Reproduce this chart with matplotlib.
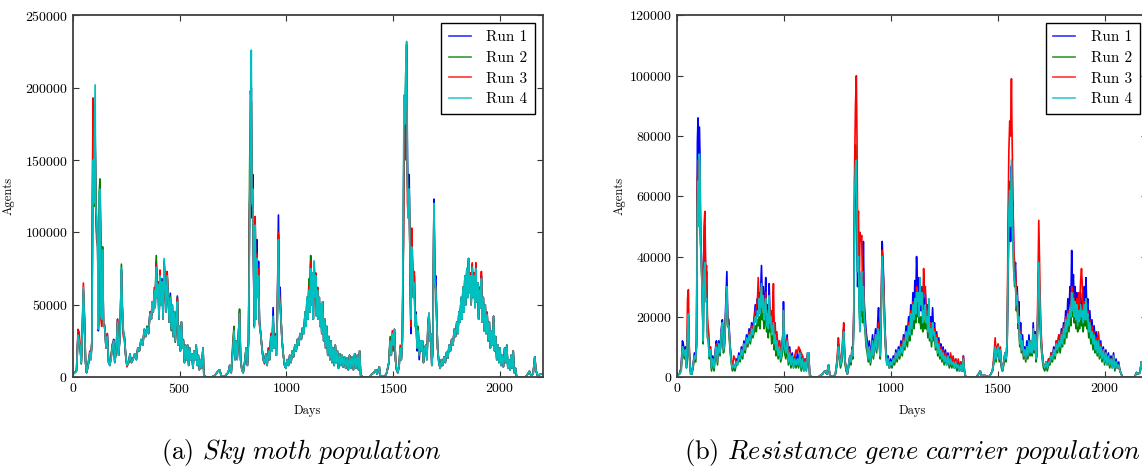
import numpy as np
import matplotlib
matplotlib.use("Agg")
import matplotlib.pyplot as plt

# font that looks like the LaTeX document
plt.rcParams['font.family'] = ['cmr10', 'DejaVu Serif']
plt.rcParams['mathtext.fontset'] = 'cm'
plt.rcParams['axes.formatter.use_mathtext'] = True

# ---------------- sky moth population (thousands of agents) ----------------
sky_days = [
    0, 10, 18, 25, 30, 35, 40, 45, 50, 55,
    60, 65, 72, 80, 85, 90, 95, 98, 102, 105,
    108, 112, 117, 120, 124, 128, 132, 136, 140, 144,
    150, 156, 162, 168, 174, 180, 186, 192, 197, 204,
    210, 215, 222, 228, 232, 237, 242, 248, 254, 262,
    268, 275, 282, 290, 298, 305, 312, 320, 328, 335,
    342, 348, 355, 362, 368, 372, 377, 382, 386, 391,
    396, 400, 404, 409, 413, 418, 423, 428, 433, 437,
    442, 447, 452, 457, 461, 466, 471, 476, 480, 485,
    490, 494, 499, 504, 509, 514, 518, 523, 528, 533,
    538, 543, 548, 553, 558, 563, 568, 573, 578, 583,
    588, 593, 598, 603, 610, 614, 625, 650, 665, 680,
    688, 695, 710, 720, 728, 735, 742, 750, 755, 760,
    765, 770, 776, 781, 786, 792, 798, 805, 812, 818,
    823, 828, 832, 836, 839, 843, 847, 850, 854, 858,
    862, 866, 870, 874, 880, 886, 892, 898, 904, 910,
    916, 922, 928, 933, 938, 943, 948, 953, 958, 963,
    967, 971, 975, 980, 986, 992, 998, 1004, 1010, 1016,
    1022, 1028, 1034, 1040, 1046, 1052, 1058, 1064, 1070, 1076,
    1082, 1088, 1092, 1097, 1101, 1106, 1110, 1114, 1118, 1122,
    1126, 1130, 1134, 1138, 1142, 1146, 1150, 1154, 1158, 1162,
    1166, 1170, 1175, 1180, 1184, 1189, 1194, 1199, 1204, 1209,
    1214, 1219, 1224, 1229, 1234, 1239, 1244, 1250, 1255, 1260,
    1266, 1272, 1278, 1284, 1290, 1296, 1302, 1308, 1314, 1320,
    1326, 1332, 1338, 1343, 1348, 1360, 1390, 1400, 1410, 1418,
    1425, 1435, 1440, 1460, 1470, 1480, 1486, 1491, 1496, 1501,
    1506, 1511, 1516, 1522, 1528, 1533, 1538, 1543, 1548, 1551,
    1555, 1559, 1563, 1567, 1571, 1575, 1579, 1583, 1587, 1591,
    1595, 1599, 1603, 1607, 1612, 1617, 1622, 1627, 1632, 1637,
    1642, 1648, 1653, 1658, 1663, 1668, 1672, 1676, 1681, 1686,
    1691, 1695, 1700, 1704, 1708, 1714, 1720, 1726, 1732, 1738,
    1744, 1750, 1756, 1762, 1768, 1774, 1780, 1786, 1792, 1798,
    1803, 1808, 1813, 1818, 1822, 1827, 1831, 1836, 1840, 1845,
    1849, 1853, 1857, 1861, 1865, 1870, 1874, 1879, 1883, 1887,
    1891, 1896, 1900, 1905, 1909, 1913, 1917, 1922, 1926, 1931,
    1935, 1940, 1945, 1950, 1955, 1960, 1965, 1970, 1975, 1980,
    1985, 1990, 1995, 2000, 2005, 2010, 2016, 2022, 2027, 2032,
    2037, 2042, 2047, 2052, 2057, 2062, 2067, 2073, 2078, 2120,
    2130, 2138, 2145, 2155, 2163, 2168, 2175, 2190, 2200]

sky_run1 = [
    2, 3, 5, 30, 24, 22, 10, 30, 60, 40,
    10, 3, 8, 16, 12, 25, 190, 150, 120, 165,
    125, 100, 95, 32, 85, 130, 80, 45, 88, 36,
    35, 20, 30, 10, 8, 14, 22, 26, 10, 20,
    40, 15, 30, 74, 50, 30, 28, 15, 8, 10,
    16, 10, 12, 16, 12, 20, 18, 26, 22, 33,
    28, 35, 30, 45, 40, 52, 45, 60, 48, 80,
    55, 65, 40, 70, 50, 68, 40, 80, 62, 45,
    70, 55, 38, 58, 33, 50, 28, 45, 25, 40,
    56, 22, 35, 18, 38, 20, 25, 10, 22, 12,
    22, 8, 20, 12, 16, 6, 18, 12, 22, 8,
    15, 5, 12, 6, 20, 1, 0, 0, 1, 4,
    5, 1, 0, 2, 3, 8, 3, 20, 30, 12,
    25, 12, 30, 45, 12, 5, 3, 10, 20, 8,
    25, 120, 150, 200, 110, 140, 70, 35, 110, 40,
    95, 60, 80, 40, 30, 20, 12, 10, 16, 8,
    20, 12, 30, 18, 48, 20, 28, 15, 45, 112,
    60, 62, 40, 25, 15, 8, 6, 12, 8, 15,
    10, 18, 14, 22, 18, 26, 22, 30, 26, 34,
    30, 45, 35, 55, 40, 65, 45, 78, 50, 72,
    40, 80, 55, 70, 42, 60, 40, 55, 35, 50,
    30, 52, 25, 40, 20, 35, 15, 28, 12, 25,
    10, 20, 8, 22, 10, 18, 6, 16, 8, 15,
    7, 14, 6, 13, 5, 15, 6, 14, 5, 16,
    6, 15, 5, 18, 1, 0, 0, 2, 3, 5,
    2, 7, 1, 0, 3, 10, 25, 15, 30, 20,
    33, 12, 5, 3, 8, 20, 12, 25, 100, 175,
    160, 200, 230, 150, 110, 140, 80, 30, 100, 70,
    55, 70, 35, 45, 18, 30, 12, 25, 18, 25,
    10, 20, 22, 12, 35, 44, 25, 30, 8, 20,
    123, 66, 70, 40, 20, 10, 6, 12, 8, 14,
    10, 17, 13, 22, 18, 26, 22, 33, 28, 38,
    30, 45, 38, 55, 40, 62, 45, 70, 50, 75,
    55, 82, 58, 72, 50, 78, 55, 72, 48, 76,
    52, 65, 40, 62, 48, 70, 38, 55, 32, 50,
    30, 43, 25, 38, 20, 32, 22, 42, 18, 28,
    12, 22, 10, 20, 8, 15, 7, 20, 10, 22,
    6, 12, 5, 15, 6, 18, 3, 6, 0, 0,
    2, 4, 1, 2, 14, 5, 1, 2, 2]

sky_run2 = [
    2, 3, 4, 28, 26, 20, 9, 28, 58, 38,
    10, 3, 7, 15, 13, 24, 180, 120, 118, 160,
    130, 105, 90, 35, 128, 137, 82, 48, 90, 38,
    33, 22, 28, 11, 8, 15, 23, 24, 10, 18,
    38, 16, 32, 78, 46, 32, 28, 15, 8, 10,
    15, 10, 13, 15, 12, 20, 18, 25, 23, 33,
    28, 35, 31, 44, 40, 50, 46, 58, 50, 84,
    56, 66, 42, 68, 52, 66, 42, 78, 62, 46,
    70, 55, 38, 56, 32, 50, 28, 45, 24, 40,
    55, 22, 35, 18, 38, 20, 25, 10, 22, 12,
    22, 8, 20, 12, 16, 6, 18, 12, 22, 8,
    15, 5, 12, 6, 20, 1, 0, 0, 1, 4,
    5, 1, 0, 2, 3, 8, 3, 25, 35, 12,
    25, 14, 28, 47, 12, 5, 3, 10, 20, 9,
    25, 140, 198, 190, 120, 130, 75, 36, 108, 45,
    80, 55, 70, 38, 30, 20, 12, 10, 16, 8,
    18, 12, 28, 20, 40, 22, 26, 15, 40, 98,
    55, 50, 40, 25, 15, 8, 6, 12, 8, 15,
    10, 18, 14, 22, 18, 26, 22, 30, 26, 34,
    30, 45, 35, 55, 40, 68, 45, 84, 50, 70,
    40, 78, 55, 70, 42, 62, 40, 55, 35, 50,
    30, 52, 25, 40, 20, 35, 15, 28, 12, 25,
    10, 20, 8, 22, 10, 18, 6, 16, 8, 15,
    7, 14, 6, 13, 5, 15, 6, 14, 5, 16,
    6, 15, 5, 18, 1, 0, 0, 2, 3, 5,
    2, 7, 1, 0, 3, 10, 28, 15, 30, 18,
    32, 12, 5, 3, 8, 20, 12, 25, 90, 180,
    170, 210, 220, 135, 115, 128, 80, 35, 95, 70,
    55, 68, 35, 43, 20, 35, 15, 25, 18, 25,
    10, 20, 22, 12, 35, 44, 25, 30, 8, 20,
    120, 66, 60, 40, 20, 10, 6, 12, 8, 14,
    10, 17, 13, 22, 18, 26, 22, 33, 28, 38,
    30, 45, 38, 55, 40, 62, 45, 70, 50, 75,
    55, 80, 58, 70, 50, 76, 55, 70, 48, 75,
    52, 65, 40, 60, 48, 68, 38, 55, 32, 50,
    30, 43, 25, 38, 20, 32, 22, 42, 18, 28,
    12, 22, 10, 20, 8, 15, 7, 20, 10, 22,
    6, 12, 5, 15, 6, 18, 3, 6, 0, 0,
    2, 4, 1, 2, 14, 5, 1, 2, 2]

sky_run3 = [
    2, 3, 5, 33, 31, 22, 10, 35, 65, 42,
    12, 3, 9, 18, 12, 26, 193, 160, 122, 170,
    120, 95, 90, 35, 110, 130, 40, 35, 85, 36,
    36, 20, 30, 10, 9, 14, 22, 25, 11, 20,
    40, 15, 30, 72, 48, 28, 26, 15, 7, 10,
    15, 10, 12, 16, 13, 20, 18, 25, 22, 32,
    28, 34, 30, 45, 40, 52, 45, 62, 48, 78,
    55, 65, 40, 74, 50, 66, 40, 80, 60, 45,
    73, 58, 38, 55, 33, 50, 28, 45, 25, 40,
    55, 22, 35, 18, 38, 20, 26, 10, 22, 12,
    22, 8, 20, 12, 16, 6, 18, 12, 22, 8,
    15, 5, 12, 6, 20, 1, 0, 0, 1, 4,
    5, 1, 0, 2, 3, 8, 3, 22, 33, 12,
    25, 13, 30, 44, 12, 5, 3, 10, 20, 8,
    25, 115, 140, 190, 118, 125, 70, 35, 111, 42,
    85, 60, 75, 36, 30, 20, 12, 9, 16, 8,
    20, 12, 30, 20, 40, 20, 30, 15, 48, 100,
    58, 52, 40, 25, 15, 8, 6, 12, 8, 15,
    10, 18, 14, 22, 18, 26, 22, 30, 26, 34,
    30, 45, 35, 55, 40, 63, 45, 80, 50, 72,
    40, 78, 55, 72, 42, 62, 40, 55, 35, 50,
    30, 52, 25, 40, 20, 35, 15, 28, 12, 25,
    10, 20, 8, 22, 10, 18, 6, 16, 8, 15,
    7, 14, 6, 13, 5, 15, 6, 14, 5, 16,
    6, 15, 5, 18, 1, 0, 0, 2, 3, 5,
    2, 7, 1, 0, 3, 10, 26, 15, 32, 20,
    33, 12, 5, 3, 8, 22, 12, 28, 95, 170,
    150, 190, 210, 120, 110, 125, 80, 35, 103, 80,
    60, 73, 35, 43, 20, 32, 15, 25, 18, 25,
    10, 20, 22, 12, 38, 44, 25, 30, 8, 20,
    120, 66, 60, 40, 20, 10, 6, 12, 8, 14,
    10, 17, 13, 22, 18, 26, 22, 33, 28, 38,
    30, 45, 38, 55, 40, 62, 45, 70, 50, 75,
    55, 80, 58, 72, 50, 79, 55, 72, 48, 79,
    52, 65, 40, 62, 48, 73, 38, 55, 32, 50,
    30, 45, 25, 38, 20, 32, 22, 42, 18, 28,
    12, 22, 10, 20, 8, 15, 7, 20, 10, 22,
    6, 12, 5, 15, 6, 18, 3, 6, 0, 0,
    2, 4, 1, 2, 14, 5, 1, 2, 2]

sky_run4 = [
    2, 3, 4, 29, 25, 21, 10, 32, 62, 40,
    11, 3, 8, 17, 12, 24, 150, 120, 170, 202,
    118, 110, 85, 33, 125, 130, 42, 40, 88, 36,
    35, 20, 28, 10, 8, 13, 21, 25, 10, 20,
    38, 15, 30, 75, 50, 32, 27, 15, 8, 10,
    16, 10, 12, 16, 12, 20, 18, 26, 22, 33,
    28, 34, 30, 44, 40, 52, 45, 60, 48, 76,
    55, 64, 40, 70, 50, 66, 40, 82, 62, 45,
    70, 55, 38, 55, 33, 50, 28, 45, 25, 40,
    52, 22, 35, 18, 38, 20, 25, 10, 22, 12,
    22, 8, 20, 12, 16, 6, 18, 12, 22, 8,
    15, 5, 12, 6, 20, 1, 0, 0, 1, 4,
    5, 1, 0, 2, 3, 8, 3, 20, 32, 12,
    25, 12, 30, 44, 12, 5, 3, 10, 20, 8,
    25, 100, 180, 226, 120, 130, 72, 34, 105, 40,
    82, 55, 70, 38, 30, 20, 12, 10, 16, 8,
    18, 12, 28, 18, 42, 20, 28, 15, 42, 95,
    55, 50, 40, 25, 15, 8, 6, 12, 8, 15,
    10, 18, 14, 22, 18, 26, 22, 30, 26, 34,
    30, 45, 35, 55, 40, 60, 45, 75, 50, 72,
    40, 80, 55, 70, 42, 60, 40, 55, 35, 50,
    30, 52, 25, 40, 20, 35, 15, 28, 12, 25,
    10, 20, 8, 22, 10, 18, 6, 16, 8, 15,
    7, 14, 6, 13, 5, 15, 6, 14, 5, 16,
    6, 15, 5, 18, 1, 0, 0, 2, 3, 5,
    2, 7, 1, 0, 3, 10, 25, 15, 30, 22,
    33, 12, 5, 3, 8, 20, 12, 25, 130, 195,
    175, 210, 232, 135, 110, 130, 80, 40, 90, 75,
    55, 65, 35, 43, 20, 32, 15, 25, 18, 25,
    10, 20, 22, 12, 35, 44, 25, 30, 8, 20,
    120, 66, 60, 40, 20, 10, 6, 12, 8, 14,
    10, 17, 13, 22, 18, 26, 22, 33, 28, 38,
    30, 45, 38, 55, 40, 62, 45, 70, 50, 75,
    55, 82, 58, 70, 50, 76, 55, 70, 48, 75,
    52, 65, 40, 60, 48, 68, 38, 55, 32, 50,
    30, 43, 25, 38, 20, 32, 22, 42, 18, 28,
    12, 22, 10, 20, 8, 15, 7, 20, 10, 22,
    6, 12, 5, 15, 6, 18, 3, 6, 0, 0,
    2, 4, 1, 2, 14, 5, 1, 2, 2]

# ---------------- resistance gene carriers (thousands of agents) ----------------
res_days = [
    0, 10, 18, 24, 28, 33, 38, 43, 48, 52,
    56, 62, 68, 74, 80, 86, 90, 94, 97, 100,
    103, 106, 109, 113, 117, 121, 125, 129, 133, 137,
    141, 145, 150, 155, 160, 166, 172, 178, 183, 188,
    194, 200, 206, 211, 216, 221, 227, 232, 236, 241,
    246, 252, 258, 264, 270, 276, 282, 288, 294, 300,
    306, 312, 318, 324, 330, 336, 342, 348, 354, 360,
    365, 370, 375, 379, 383, 387, 391, 394, 398, 402,
    406, 410, 414, 418, 422, 426, 430, 434, 438, 442,
    446, 450, 454, 458, 462, 466, 472, 478, 484, 490,
    494, 497, 502, 508, 514, 520, 526, 532, 538, 544,
    550, 556, 562, 568, 574, 580, 586, 592, 598, 604,
    610, 615, 620, 630, 660, 680, 690, 700, 708, 714,
    730, 740, 748, 754, 758, 764, 770, 775, 779, 784,
    790, 796, 802, 808, 813, 818, 822, 826, 830, 834,
    838, 841, 844, 848, 852, 855, 859, 863, 867, 871,
    875, 879, 884, 889, 894, 899, 904, 909, 914, 918,
    923, 928, 933, 938, 942, 946, 950, 955, 959, 963,
    967, 971, 976, 981, 987, 993, 999, 1005, 1011, 1017,
    1023, 1029, 1035, 1041, 1047, 1053, 1059, 1065, 1071, 1077,
    1083, 1088, 1093, 1098, 1103, 1108, 1112, 1116, 1120, 1124,
    1128, 1132, 1136, 1140, 1145, 1149, 1153, 1157, 1161, 1165,
    1169, 1173, 1177, 1181, 1186, 1190, 1195, 1199, 1204, 1209,
    1214, 1219, 1224, 1229, 1234, 1239, 1244, 1249, 1255, 1261,
    1267, 1273, 1279, 1285, 1291, 1297, 1303, 1309, 1315, 1321,
    1327, 1333, 1339, 1344, 1350, 1400, 1410, 1418, 1424, 1440,
    1460, 1475, 1483, 1488, 1492, 1497, 1502, 1507, 1512, 1517,
    1522, 1528, 1534, 1539, 1544, 1548, 1552, 1556, 1560, 1564,
    1567, 1571, 1575, 1579, 1583, 1587, 1591, 1595, 1599, 1603,
    1607, 1611, 1616, 1621, 1626, 1631, 1636, 1641, 1646, 1651,
    1656, 1661, 1666, 1670, 1675, 1679, 1683, 1688, 1692, 1695,
    1699, 1703, 1708, 1714, 1720, 1726, 1732, 1738, 1744, 1750,
    1756, 1762, 1768, 1774, 1780, 1786, 1792, 1798, 1803, 1808,
    1813, 1818, 1823, 1828, 1833, 1838, 1842, 1846, 1850, 1854,
    1858, 1862, 1866, 1870, 1874, 1879, 1883, 1888, 1892, 1896,
    1900, 1905, 1909, 1913, 1917, 1921, 1926, 1931, 1936, 1941,
    1946, 1951, 1956, 1961, 1966, 1971, 1976, 1982, 1988, 1994,
    2000, 2006, 2012, 2018, 2024, 2030, 2036, 2042, 2048, 2054,
    2060, 2066, 2072, 2078, 2084, 2140, 2150, 2158, 2166, 2172,
    2178, 2190, 2200]

res_run1 = [
    0.5, 1, 3, 12, 11, 8, 10, 4, 15, 20,
    8, 2, 1, 4, 8, 6, 12, 78, 86, 60,
    83, 75, 48, 40, 30, 12, 45, 50, 30, 35,
    15, 16, 8, 10, 3, 7, 4, 9, 12, 6,
    12, 9, 16, 19, 10, 12, 24, 35, 20, 19,
    12, 6, 3, 4, 3, 6, 5, 8, 6, 10,
    8, 12, 10, 14, 12, 16, 14, 18, 16, 20,
    24, 20, 26, 22, 28, 22, 30, 37, 26, 30,
    22, 26, 33, 20, 24, 18, 31, 20, 22, 15,
    18, 20, 12, 16, 10, 14, 8, 12, 7, 10,
    14, 25, 12, 9, 14, 6, 10, 5, 8, 4,
    7, 4, 8, 4, 9, 3, 7, 3, 6, 3,
    8, 8, 0.5, 0, 0, 1, 2, 1, 4, 0.5,
    0, 1, 5, 11, 8, 4, 6, 12, 16, 6,
    3, 1, 4, 7, 5, 9, 7, 20, 55, 72,
    60, 45, 30, 40, 25, 20, 30, 35, 20, 45,
    25, 20, 15, 12, 8, 12, 6, 10, 14, 8,
    12, 16, 10, 18, 23, 12, 8, 25, 45, 38,
    30, 18, 10, 5, 7, 3, 6, 4, 7, 5,
    9, 6, 10, 8, 12, 9, 14, 12, 17, 14,
    20, 16, 24, 18, 28, 22, 32, 25, 40, 30,
    33, 24, 28, 22, 30, 20, 26, 22, 28, 22,
    24, 18, 23, 15, 20, 14, 23, 16, 18, 12,
    15, 10, 13, 9, 11, 7, 10, 6, 9, 5,
    8, 4, 7, 4, 6, 3, 6, 3, 5, 2,
    5, 2, 7, 2, 0, 0, 1, 2, 0.5, 0.5,
    0, 2, 6, 10, 6, 9, 10, 6, 9, 4,
    2, 5, 8, 6, 12, 30, 50, 60, 45, 70,
    55, 58, 40, 35, 38, 25, 30, 20, 25, 12,
    18, 10, 14, 8, 10, 6, 12, 7, 14, 9,
    12, 8, 18, 10, 15, 6, 8, 22, 35, 28,
    18, 12, 8, 4, 3, 5, 3, 6, 5, 8,
    7, 10, 8, 12, 10, 14, 11, 16, 13, 18,
    15, 22, 17, 26, 20, 30, 24, 42, 28, 34,
    25, 30, 22, 28, 20, 26, 22, 28, 22, 25,
    20, 30, 24, 33, 22, 26, 18, 22, 15, 19,
    13, 17, 11, 15, 10, 14, 8, 12, 7, 10,
    6, 9, 5, 8, 4, 7, 4, 8, 3, 6,
    3, 5, 2, 1, 0, 0, 1.5, 1, 1.5, 5,
    3, 4, 4]

res_run2 = [
    0.5, 1, 2, 9, 8, 6, 8, 3, 12, 18,
    7, 1, 1, 3, 6, 5, 10, 60, 70, 52,
    68, 62, 44, 36, 28, 11, 40, 42, 28, 30,
    13, 12, 6, 8, 2, 5, 2, 7, 10, 4,
    10, 7, 14, 17, 8, 10, 20, 28, 17, 16,
    10, 5, 2, 3, 2, 4, 4, 6, 5, 8,
    6, 10, 8, 12, 10, 13, 11, 14, 13, 15,
    17, 15, 19, 17, 20, 16, 22, 24, 19, 21,
    16, 18, 22, 15, 17, 13, 20, 15, 16, 11,
    13, 14, 9, 12, 7, 10, 6, 9, 5, 7,
    10, 18, 8, 6, 10, 4, 7, 3, 6, 3,
    5, 3, 5, 3, 7, 2, 5, 2, 4, 2,
    7, 7, 0.5, 0, 0, 1, 2, 1, 4, 0.5,
    0, 1, 4, 9, 7, 3, 5, 11, 14, 5,
    2, 1, 3, 6, 4, 8, 6, 18, 65, 77,
    70, 55, 35, 38, 22, 18, 28, 30, 18, 25,
    18, 15, 10, 8, 5, 8, 4, 7, 10, 6,
    9, 12, 8, 14, 16, 10, 6, 22, 38, 35,
    26, 15, 8, 4, 5, 3, 5, 3, 5, 4,
    7, 5, 8, 6, 9, 7, 11, 9, 13, 10,
    15, 12, 18, 14, 20, 16, 22, 18, 25, 20,
    23, 18, 20, 16, 20, 15, 18, 16, 20, 16,
    18, 13, 17, 12, 14, 10, 15, 12, 13, 9,
    11, 7, 9, 6, 8, 5, 7, 4, 6, 4,
    6, 3, 5, 3, 5, 3, 4, 2, 4, 2,
    4, 2, 6, 2, 0, 0, 1, 2, 0.5, 0.5,
    0, 2, 5, 8, 5, 8, 9, 5, 8, 3,
    2, 4, 7, 5, 10, 40, 60, 65, 55, 65,
    50, 45, 35, 30, 32, 22, 25, 16, 18, 10,
    12, 8, 10, 6, 8, 5, 9, 6, 10, 7,
    10, 7, 14, 8, 12, 5, 7, 20, 32, 25,
    16, 10, 6, 3, 2, 4, 2, 4, 4, 6,
    5, 8, 6, 9, 8, 11, 8, 12, 10, 14,
    11, 16, 13, 18, 15, 20, 17, 25, 20, 22,
    18, 20, 16, 20, 15, 18, 16, 20, 17, 18,
    15, 20, 17, 22, 16, 18, 13, 15, 11, 13,
    9, 12, 8, 10, 7, 10, 6, 9, 5, 8,
    4, 7, 4, 6, 3, 5, 3, 6, 2, 5,
    3, 4, 2, 1, 0, 0, 1.5, 1, 1.5, 5,
    3, 4, 4]

res_run3 = [
    0.5, 1, 3, 10, 10, 7, 9, 4, 26, 29,
    10, 2, 1, 4, 7, 6, 11, 65, 72, 55,
    70, 66, 45, 38, 29, 12, 50, 55, 35, 37,
    20, 16, 9, 10, 4, 6, 3, 8, 11, 5,
    11, 8, 15, 18, 9, 11, 22, 30, 18, 17,
    11, 6, 3, 7, 6, 5, 5, 7, 6, 9,
    7, 11, 9, 13, 11, 15, 13, 17, 15, 19,
    22, 23, 25, 33, 25, 24, 28, 30, 24, 27,
    20, 24, 28, 18, 22, 17, 26, 19, 22, 16,
    22, 31, 14, 18, 11, 15, 9, 12, 8, 11,
    14, 22, 12, 9, 13, 6, 9, 5, 7, 4,
    7, 9, 8, 10, 9, 8, 7, 3, 6, 3,
    8, 8, 0.5, 0, 0, 1, 2, 1, 4, 0.5,
    0, 1, 6, 13, 9, 4, 6, 14, 18, 6,
    3, 1, 4, 7, 5, 10, 7, 22, 70, 90,
    100, 80, 50, 55, 30, 48, 45, 47, 30, 35,
    22, 18, 12, 10, 7, 10, 5, 8, 12, 7,
    10, 14, 9, 15, 18, 11, 7, 28, 42, 36,
    28, 17, 9, 5, 6, 3, 5, 4, 6, 5,
    8, 6, 9, 7, 11, 9, 13, 11, 15, 13,
    18, 15, 22, 17, 25, 20, 26, 22, 30, 24,
    27, 22, 32, 25, 26, 22, 36, 28, 30, 20,
    22, 16, 20, 14, 18, 13, 18, 15, 16, 11,
    14, 9, 12, 8, 10, 7, 9, 6, 8, 5,
    7, 4, 8, 5, 7, 4, 6, 3, 6, 3,
    5, 2, 7, 2, 0, 0, 1, 2, 0.5, 0.5,
    0, 2, 8, 13, 7, 10, 11, 6, 10, 4,
    2, 5, 8, 6, 12, 50, 75, 85, 80, 99,
    80, 60, 42, 38, 35, 28, 28, 18, 20, 12,
    15, 9, 12, 7, 9, 6, 10, 7, 12, 8,
    12, 8, 16, 9, 14, 6, 8, 30, 52, 40,
    25, 15, 8, 4, 3, 5, 4, 6, 5, 8,
    7, 9, 8, 12, 11, 14, 12, 15, 12, 17,
    14, 20, 16, 22, 18, 24, 20, 30, 24, 28,
    22, 25, 20, 26, 18, 28, 24, 32, 36, 30,
    22, 25, 20, 26, 20, 22, 16, 19, 14, 17,
    12, 15, 10, 13, 9, 15, 8, 11, 7, 9,
    6, 8, 5, 7, 4, 6, 4, 7, 3, 5,
    3, 4, 2, 1, 0, 0, 1.5, 1, 1.5, 5,
    3, 4, 4]

res_run4 = [
    0.5, 1, 2, 10, 9, 7, 9, 3, 16, 21,
    8, 1, 1, 4, 7, 6, 11, 55, 65, 50,
    74, 70, 46, 35, 28, 12, 35, 38, 25, 26,
    14, 12, 7, 9, 3, 6, 3, 8, 10, 5,
    11, 8, 15, 18, 9, 11, 22, 30, 17, 17,
    11, 5, 3, 4, 3, 5, 4, 7, 6, 9,
    7, 11, 9, 13, 11, 14, 12, 16, 14, 18,
    20, 18, 22, 20, 26, 21, 27, 31, 23, 27,
    19, 23, 26, 17, 21, 16, 27, 18, 20, 14,
    16, 18, 11, 14, 9, 12, 7, 10, 6, 9,
    12, 22, 10, 8, 12, 5, 8, 4, 7, 3,
    6, 4, 6, 4, 8, 3, 6, 2, 5, 2,
    8, 8, 0.5, 0, 0, 1, 2, 1, 4, 0.5,
    0, 1, 5, 10, 8, 4, 6, 12, 15, 6,
    3, 1, 4, 7, 5, 9, 7, 18, 60, 70,
    72, 55, 35, 40, 20, 15, 32, 35, 22, 30,
    20, 16, 12, 10, 6, 10, 5, 8, 12, 7,
    10, 14, 9, 16, 15, 10, 7, 24, 40, 32,
    25, 16, 9, 4, 6, 3, 5, 4, 6, 5,
    8, 6, 9, 7, 10, 8, 12, 10, 15, 12,
    17, 14, 21, 16, 24, 19, 26, 21, 28, 25,
    28, 20, 33, 24, 28, 18, 22, 20, 24, 18,
    20, 15, 26, 13, 16, 12, 18, 14, 15, 10,
    13, 8, 11, 7, 9, 6, 8, 5, 7, 4,
    7, 4, 6, 4, 5, 3, 5, 3, 4, 2,
    4, 2, 6, 2, 0, 0, 1, 2, 0.5, 0.5,
    0, 2, 6, 10, 6, 9, 10, 6, 9, 4,
    2, 5, 8, 6, 12, 35, 55, 62, 50, 72,
    60, 45, 35, 32, 30, 24, 27, 18, 20, 11,
    14, 9, 12, 7, 9, 6, 10, 7, 12, 8,
    12, 8, 16, 9, 14, 6, 8, 24, 38, 30,
    20, 12, 7, 4, 3, 5, 3, 5, 5, 7,
    6, 9, 7, 11, 9, 12, 10, 14, 11, 16,
    13, 19, 15, 21, 17, 23, 20, 28, 22, 26,
    20, 25, 19, 24, 17, 22, 19, 24, 20, 22,
    18, 24, 19, 26, 19, 21, 15, 18, 13, 15,
    11, 14, 9, 12, 8, 12, 7, 10, 6, 9,
    5, 8, 4, 7, 4, 6, 3, 7, 3, 5,
    3, 4, 2, 1, 0, 0, 1.5, 1, 1.5, 5,
    3, 4, 4]

run_labels = ["Run 1", "Run 2", "Run 3", "Run 4"]
run_colors = ['b', 'g', 'r', 'c']

W, H = 1142.0, 469.0
fig = plt.figure(figsize=(W / 100, H / 100), dpi=100, facecolor='white')


def draw_panel(ax, days, runs, ymax, ystep):
    for vals, lab, col in zip(runs, run_labels, run_colors):
        ax.plot(days, np.array(vals) * 1000, color=col, lw=1.2, label=lab)
    ax.set_xlim(0, 2200)
    ax.set_ylim(0, ymax)
    ax.set_xticks([0, 500, 1000, 1500, 2000])
    ax.set_yticks(np.arange(0, ymax + 1, ystep))
    ax.ticklabel_format(style='plain', useOffset=False)
    ax.tick_params(direction='in', top=True, right=True, length=4, width=0.8,
                   labelsize=10, color='0.2')
    for sp in ax.spines.values():
        sp.set_color('0.25')
        sp.set_linewidth(1.3)
    ax.set_xlabel("Days", fontsize=9)
    ax.set_ylabel("Agents", fontsize=9)
    leg = ax.legend(loc='upper right', fontsize=11, fancybox=False, framealpha=1,
                    edgecolor='black', handlelength=1.45, handletextpad=1.0,
                    labelspacing=0.45, borderpad=0.5, borderaxespad=0.5)
    leg.get_frame().set_linewidth(1.0)
    # legend lines are a bit paler in the original
    for ln in leg.get_lines():
        ln.set_alpha(0.8)
    return ax


# axes boxes measured in pixels of the target picture
ax1 = fig.add_axes([72.7 / W, 1 - 377 / H, 470 / W, 361.5 / H])
draw_panel(ax1, sky_days, [sky_run1, sky_run2, sky_run3, sky_run4], 250000, 50000)
ax1.yaxis.set_label_coords(-0.123, 0.5)
ax1.xaxis.set_label_coords(0.5, -0.078)

# right panel runs slightly past the edge of the page, like the original
ax2 = fig.add_axes([677.3 / W, 1 - 377 / H, 470 / W, 361.5 / H])
draw_panel(ax2, res_days, [res_run1, res_run2, res_run3, res_run4], 120000, 20000)
ax2.yaxis.set_label_coords(-0.111, 0.5)
ax2.xaxis.set_label_coords(0.5, -0.078)

# sub captions
fig.text(301 / W, 1 - 452 / H, r'(a) $\mathit{Sky\ moth\ population}$',
         ha='center', va='center', fontsize=18.6)
fig.text(912 / W, 1 - 452 / H, r'(b) $\mathit{Resistance\ gene\ carrier\ population}$',
         ha='center', va='center', fontsize=19)

fig.savefig("out.png", dpi=100, facecolor='white')
